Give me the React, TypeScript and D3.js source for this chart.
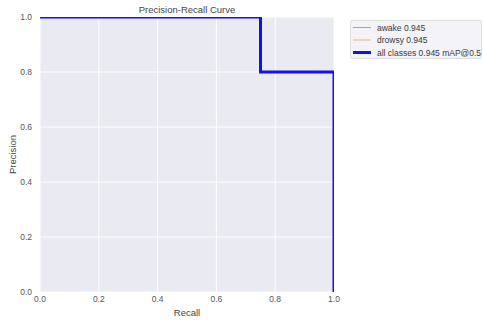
import { useEffect, useRef } from "react";
import * as d3 from "d3";

// PR curve points (recall, precision)
const recallPts = [0, 0.75, 0.75, 1.0, 1.0];
const awakePrecision = [1.0, 1.0, 0.8, 0.8, 0.0];
const drowsyPrecision = [1.0, 1.0, 0.8, 0.8, 0.0];
const allPrecision = [1.0, 1.0, 0.8, 0.8, 0.0];
const tickValues = [0, 0.2, 0.4, 0.6, 0.8, 1.0];
const legendLabels = ["awake 0.945", "drowsy 0.945", "all classes 0.945 mAP@0.5"];

const App = () => {
    const ref = useRef<SVGSVGElement>(null);

    useEffect(() => {
        if (!ref.current) return;
        const svg = d3.select(ref.current);
        svg.selectAll("*").remove();

        const left = 40, right = 334, top = 17, bottom = 292;
        const x = d3.scaleLinear().domain([0, 1]).range([left, right]);
        const y = d3.scaleLinear().domain([0, 1]).range([bottom, top]);
        const font = "'Liberation Sans', Arial, sans-serif";
        const textColor = "#555555";

        // background
        svg.append("rect")
            .attr("x", left).attr("y", top)
            .attr("width", right - left).attr("height", bottom - top)
            .attr("fill", "#eaeaf2");

        // grid
        const grid = svg.append("g").attr("stroke", "#ffffff").attr("stroke-width", 1);
        tickValues.forEach((t) => {
            grid.append("line")
                .attr("x1", x(t)).attr("x2", x(t))
                .attr("y1", top).attr("y2", bottom);
            grid.append("line")
                .attr("x1", left).attr("x2", right)
                .attr("y1", y(t)).attr("y2", y(t));
        });

        // ticks
        svg.append("g").selectAll("text")
            .data(tickValues).join("text")
            .attr("x", (d) => x(d)).attr("y", bottom + 10)
            .attr("text-anchor", "middle")
            .attr("font-family", font).attr("font-size", 8.5).attr("fill", textColor)
            .text((d) => d.toFixed(1));
        svg.append("g").selectAll("text")
            .data(tickValues).join("text")
            .attr("x", left - 8).attr("y", (d) => y(d) + 3)
            .attr("text-anchor", "end")
            .attr("font-family", font).attr("font-size", 8.5).attr("fill", textColor)
            .text((d) => d.toFixed(1));

        // labels
        svg.append("text")
            .attr("x", (left + right) / 2).attr("y", 316)
            .attr("text-anchor", "middle")
            .attr("font-family", font).attr("font-size", 9.5).attr("fill", "#444")
            .text("Recall");
        svg.append("text")
            .attr("transform", `translate(16,${(top + bottom) / 2}) rotate(-90)`)
            .attr("text-anchor", "middle")
            .attr("font-family", font).attr("font-size", 9.5).attr("fill", "#444")
            .text("Precision");
        svg.append("text")
            .attr("x", (left + right) / 2).attr("y", 13)
            .attr("text-anchor", "middle")
            .attr("font-family", font).attr("font-size", 9.5).attr("fill", "#444")
            .text("Precision-Recall Curve");

        // clip
        svg.append("clipPath").attr("id", "plot-clip")
            .append("rect")
            .attr("x", left).attr("y", top)
            .attr("width", right - left).attr("height", bottom - top);

        const line = d3.line<[number, number]>()
            .x((d) => x(d[0])).y((d) => y(d[1]));

        const colors = ["#8da9cc", "#e6b48e", "#1010f0"];
        const widths = [1, 1, 3];
        const series = [awakePrecision, drowsyPrecision, allPrecision];
        const g = svg.append("g").attr("clip-path", "url(#plot-clip)");
        series.forEach((vals, i) => {
            g.append("path")
                .datum(recallPts.map((r, j) => [r, vals[j]] as [number, number]))
                .attr("d", line)
                .attr("fill", "none")
                .attr("stroke", colors[i])
                .attr("stroke-width", widths[i]);
        });

        // legend
        const lg = svg.append("g");
        lg.append("rect")
            .attr("x", 350.5).attr("y", 20.5)
            .attr("width", 131).attr("height", 38)
            .attr("rx", 2)
            .attr("fill", "#f4f4f8").attr("stroke", "#dcdcdc");
        legendLabels.forEach((label, i) => {
            const yy = 27.5 + i * 12.5;
            lg.append("line")
                .attr("x1", 353).attr("x2", 371)
                .attr("y1", yy).attr("y2", yy)
                .attr("stroke", colors[i]).attr("stroke-width", widths[i]);
            lg.append("text")
                .attr("x", 377).attr("y", yy + 3)
                .attr("font-family", font).attr("font-size", 8.5).attr("fill", "#3a3a3a")
                .text(label);
        });
    }, []);

    return (
        <svg ref={ref} width={483} height={322}
            style={{ position: "absolute", left: 0, top: 0, background: "#fff" }} />
    );
};

export default App;
